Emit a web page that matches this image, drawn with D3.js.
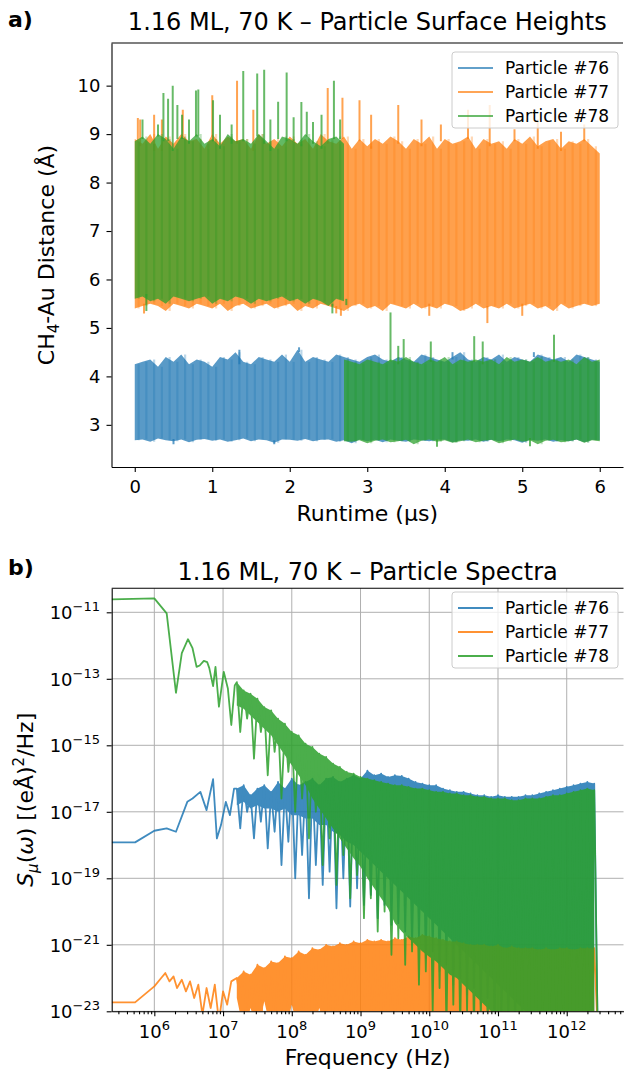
<!DOCTYPE html>
<html>
<head>
<meta charset="utf-8">
<script src="https://cdn.jsdelivr.net/npm/d3@7"></script>
<style>
  body { margin: 0; background: #fff; }
  svg { display: block; }
  text { font-family: "DejaVu Sans", sans-serif; fill: #000; }
</style>
</head>
<body>
<svg id="chart" width="624" height="1070"></svg>
<script>
const SERIES = ['Particle #76', 'Particle #77', 'Particle #78'];
const COLORS = ['#1f77b4', '#ff7f0e', '#2ca02c'];

// a) heights: band top / bottom read every 0.1 µs, plus the thin spikes that stick out
const STRIPE_US = 0.1;
const P76_TOP = [
  4.25, 4.3, 4.35, 4.2, 4.4, 4.3, 4.45, 4.25, 4.35, 4.3,
  4.2, 4.4, 4.35, 4.5, 4.3, 4.25, 4.4, 4.35, 4.3, 4.45,
  4.3, 4.55, 4.3, 4.4, 4.35, 4.3, 4.45, 4.4, 4.35, 4.3,
  4.4, 4.45, 4.35, 4.3, 4.4, 4.35, 4.3, 4.45, 4.4, 4.35,
  4.3, 4.4, 4.5, 4.35, 4.3, 4.4, 4.35, 4.45, 4.3, 4.4,
  4.35, 4.3, 4.45, 4.4, 4.35, 4.4, 4.3, 4.45, 4.4, 4.35,
  4.3];
const P76_BOT = [
  2.68, 2.7, 2.65, 2.72, 2.68, 2.66, 2.7, 2.64, 2.69, 2.71,
  2.67, 2.7, 2.65, 2.68, 2.72, 2.66, 2.7, 2.68, 2.63, 2.7,
  2.69, 2.67, 2.71, 2.66, 2.69, 2.7, 2.65, 2.68, 2.62, 2.7,
  2.66, 2.69, 2.64, 2.7, 2.67, 2.65, 2.7, 2.68, 2.66, 2.69,
  2.7, 2.64, 2.68, 2.67, 2.7, 2.65, 2.69, 2.66, 2.7, 2.68,
  2.63, 2.69, 2.67, 2.7, 2.65, 2.68, 2.66, 2.7, 2.64, 2.69,
  2.68];
const P77_TOP = [
  8.9, 8.8, 9.0, 8.7, 8.95, 8.8, 9.0, 8.85, 8.9, 8.7,
  9.0, 8.8, 8.95, 8.85, 8.9, 8.7, 9.0, 8.8, 8.9, 8.75,
  8.95, 8.8, 8.9, 8.7, 9.0, 8.85, 8.8, 8.95, 8.7, 8.9,
  8.75, 8.9, 8.8, 8.95, 8.85, 8.7, 8.9, 8.8, 8.95, 8.7,
  8.9, 8.8, 8.85, 8.95, 8.7, 8.9, 8.8, 8.85, 8.7, 8.9,
  8.8, 8.95, 8.75, 8.85, 8.9, 8.7, 8.85, 8.8, 8.9, 8.75,
  8.6];
const P77_BOT = [
  5.4, 5.45, 5.5, 5.45, 5.35, 5.5, 5.45, 5.4, 5.5, 5.45,
  5.4, 5.5, 5.35, 5.45, 5.5, 5.4, 5.45, 5.5, 5.4, 5.45,
  5.5, 5.35, 5.45, 5.4, 5.5, 5.45, 5.4, 5.35, 5.45, 5.5,
  5.4, 5.45, 5.35, 5.5, 5.45, 5.4, 5.5, 5.4, 5.45, 5.4,
  5.5, 5.45, 5.35, 5.4, 5.5, 5.4, 5.45, 5.4, 5.5, 5.4,
  5.45, 5.5, 5.4, 5.45, 5.35, 5.5, 5.4, 5.45, 5.5, 5.45,
  5.5];
// #78 sits high until 2.7 µs, then drops into the low band
const P78_TOP_EARLY = [
  8.85, 8.95, 8.8, 9.0, 8.9, 8.7, 8.95, 8.85, 9.0, 8.8,
  8.9, 8.75, 9.0, 8.85, 8.9, 8.8, 9.0, 8.85, 8.7, 8.95,
  8.9, 8.8, 9.0, 8.85, 8.75, 8.9, 8.95, 8.8];
const P78_BOT_EARLY = [
  5.6, 5.65, 5.55, 5.6, 5.5, 5.65, 5.6, 5.55, 5.6, 5.65,
  5.5, 5.6, 5.55, 5.65, 5.6, 5.5, 5.6, 5.55, 5.6, 5.65,
  5.55, 5.6, 5.5, 5.6, 5.55, 5.45, 5.6, 5.55];
const P78_LATE_START = 2.7;
const P78_TOP_LATE = [
  4.35, 4.3, 4.25, 4.35, 4.3, 4.25, 4.35, 4.3, 4.4, 4.3,
  4.25, 4.35, 4.3, 4.4, 4.25, 4.35, 4.3, 4.35, 4.3, 4.35,
  4.25, 4.4, 4.3, 4.35, 4.3, 4.4, 4.3, 4.35, 4.3, 4.35,
  4.25, 4.4, 4.3, 4.35];
const P78_BOT_LATE = [
  2.66, 2.65, 2.68, 2.62, 2.67, 2.7, 2.64, 2.66, 2.69, 2.6,
  2.67, 2.7, 2.65, 2.68, 2.63, 2.66, 2.7, 2.64, 2.67, 2.69,
  2.62, 2.66, 2.7, 2.65, 2.68, 2.6, 2.67, 2.69, 2.64, 2.66,
  2.7, 2.63, 2.68, 2.66];
// spikes: [runtime µs, height Å]
const P76_SPIKES = [[1.35, 4.55], [2.12, 4.6], [0.5, 2.6], [1.8, 2.6], [4.1, 4.5], [5.15, 4.5]];
const P77_SPIKES = [
  [0.04, 9.33], [0.07, 9.3], [0.25, 9.4], [0.35, 9.3], [0.62, 9.5], [1.0, 9.8], [1.32, 10.1],
  [1.53, 9.5], [2.49, 9.95], [2.68, 9.75], [2.9, 9.7], [3.05, 9.4], [3.4, 9.6], [3.7, 9.3],
  [3.95, 9.2], [4.3, 9.5], [4.58, 9.6], [4.9, 9.1], [5.2, 9.3], [5.5, 9.05], [5.8, 9.2],
  [0.12, 5.3], [2.6, 5.3], [2.66, 5.25], [3.8, 5.25], [4.55, 5.1], [5.0, 5.25]];
const P78_SPIKES = [
  [0.1, 9.3], [0.3, 9.2], [0.37, 9.85], [0.43, 9.73], [0.49, 10.0], [0.55, 9.6], [0.61, 9.4],
  [0.7, 9.3], [0.79, 9.9], [0.82, 9.92], [1.01, 9.7], [1.1, 9.4], [1.25, 9.2], [1.4, 10.3],
  [1.58, 10.25], [1.67, 10.33], [1.75, 9.3], [1.85, 9.67], [1.96, 10.27], [2.05, 9.35],
  [2.15, 9.66], [2.22, 9.46], [2.3, 9.25], [2.41, 9.4], [2.57, 10.1], [2.65, 9.3],
  [0.15, 5.35], [2.55, 5.3],
  [2.73, 5.47], [3.3, 5.32], [3.4, 4.63], [3.47, 4.77], [3.82, 4.72], [4.38, 4.83],
  [4.49, 4.72], [5.41, 4.86], [3.9, 2.55], [5.1, 2.56]];
const RUNTIME_TICKS = [0, 1, 2, 3, 4, 5, 6];
const DIST_TICKS = [3, 4, 5, 6, 7, 8, 9, 10];

// b) spectra, all as log10 values: sparse low-frequency part, then a dense band
const P76_LOW_F = [5.38, 5.72, 6.0, 6.18, 6.315, 6.48, 6.556, 6.67, 6.76, 6.855, 6.91, 6.97, 7.04, 7.1, 7.16];
const P76_LOW_S = [-17.92, -17.92, -17.57, -17.5, -17.6, -16.7, -16.6, -16.4, -16.95, -16.02, -17.8, -17.4, -16.7, -17.1, -16.3];
const P77_LOW_F = [5.38, 5.72, 6.0, 6.1, 6.16, 6.22, 6.28, 6.33, 6.4, 6.46, 6.52, 6.58, 6.64, 6.7, 6.76, 6.82, 6.88, 6.94, 7.0, 7.06, 7.12];
const P77_LOW_S = [-22.73, -22.73, -22.25, -22.0, -21.85, -22.1, -21.95, -22.3, -22.05, -22.4, -22.1, -22.6, -22.2, -23.1, -22.3, -22.9, -22.2, -23.3, -22.4, -22.8, -22.1];
const P78_LOW_F = [5.38, 6.0, 6.18, 6.315, 6.4, 6.49, 6.556, 6.615, 6.66, 6.72, 6.77, 6.8, 6.855, 6.89, 6.94, 7.01, 7.07, 7.12, 7.17];
const P78_LOW_S = [-10.61, -10.58, -11.03, -13.42, -12.23, -11.81, -12.08, -12.64, -12.6, -12.46, -12.5, -12.68, -13.22, -12.64, -13.84, -12.79, -13.29, -14.39, -13.2];

const DENSE_F = [
  7.2, 7.3, 7.4, 7.5, 7.6, 7.7, 7.8, 7.9, 8.0, 8.1,
  8.2, 8.3, 8.4, 8.5, 8.6, 8.7, 8.8, 8.9, 9.0, 9.1,
  9.2, 9.3, 9.4, 9.5, 9.6, 9.7, 9.8, 9.9, 10.0, 10.1,
  10.2, 10.3, 10.4, 10.5, 10.6, 10.7, 10.8, 10.9, 11.0, 11.1,
  11.2, 11.3, 11.4, 11.5, 11.6, 11.7, 11.8, 11.9, 12.0, 12.1,
  12.2, 12.3, 12.4];
// top = upper edge, floor = bottom of the solid part, dip = tips of the downward spikes
const P76_DENSE_TOP = [
  -16.3, -16.2, -16.5, -16.3, -16.2, -16.4, -16.1, -16.3, -16.0, -16.2,
  -16.1, -16.0, -16.2, -16.0, -15.95, -16.1, -16.0, -15.9, -16.0, -15.76,
  -15.9, -15.85, -15.95, -15.9, -15.92, -16.0, -16.1, -16.15, -16.2, -16.2,
  -16.3, -16.35, -16.4, -16.4, -16.45, -16.5, -16.5, -16.55, -16.5, -16.55,
  -16.55, -16.55, -16.5, -16.5, -16.45, -16.4, -16.35, -16.3, -16.25, -16.2,
  -16.15, -16.1, -16.15];
const P76_DENSE_FLOOR = [
  -16.8, -16.7, -16.9, -16.8, -16.9, -16.9, -17.0, -16.9, -17.1, -17.1,
  -17.2, -17.2, -17.4, -17.4, -17.6, -17.7, -17.9, -18.0, -18.2, -18.4,
  -18.6, -18.8, -19.0, -19.2, -19.4, -19.6, -19.8, -20.0, -20.2, -20.4,
  -20.6, -20.8, -21.0, -21.2, -21.4, -21.6, -21.8, -22.0, -22.2, -22.4,
  -22.6, -22.8, -23.0, -23.2, -23.4, -23.6, -23.6, -23.6, -23.6, -23.6,
  -23.6, -23.6, -23.6];
const P76_DENSE_DIP = [
  -17.5, -17.0, -17.8, -17.3, -18.1, -17.6, -18.6, -17.9, -19.0, -18.3,
  -19.6, -18.6, -19.2, -18.8, -19.9, -19.0, -19.85, -19.3, -19.8, -19.5,
  -20.2, -19.8, -20.4, -20.35, -20.6, -21.0, -20.8, -21.4, -21.2, -21.8,
  -21.6, -22.2, -22.0, -22.5, -22.3, -22.8, -22.6, -23.2, -23.0, -23.3,
  -23.2, -23.4, -23.3, -23.4, -23.3, -23.6, -23.6, -23.6, -23.6, -23.6,
  -23.6, -23.6, -23.6];
const P77_DENSE_TOP = [
  -22.0, -21.8, -21.9, -21.6, -21.7, -21.5, -21.55, -21.35, -21.4, -21.2,
  -21.3, -21.1, -21.15, -21.0, -21.05, -20.95, -21.0, -20.9, -20.95, -20.85,
  -20.9, -20.85, -20.9, -20.8, -20.85, -20.75, -20.8, -20.7, -20.75, -20.8,
  -20.85, -20.9, -20.9, -20.95, -21.0, -21.0, -21.0, -21.05, -21.0, -21.1,
  -21.05, -21.1, -21.1, -21.1, -21.15, -21.1, -21.15, -21.1, -21.1, -21.15,
  -21.1, -21.1, -21.1];
const P77_DENSE_FLOOR = [
  -22.6, -23.6, -22.9, -23.6, -22.7, -23.6, -23.0, -23.6, -22.8, -23.6,
  -23.1, -23.6, -22.9, -23.6, -23.6, -23.6, -23.6, -23.6, -23.6, -23.6,
  -23.6, -23.6, -23.6, -23.6, -23.6, -23.6, -23.6, -23.6, -23.6, -23.6,
  -23.6, -23.6, -23.6, -23.6, -23.6, -23.6, -23.6, -23.6, -23.6, -23.6,
  -23.6, -23.6, -23.6, -23.6, -23.6, -23.6, -23.6, -23.6, -23.6, -23.6,
  -23.6, -23.6, -23.6];
const P77_DENSE_DIP = P77_DENSE_FLOOR;
const P78_DENSE_TOP = [
  -13.1, -13.35, -13.45, -13.6, -13.85, -13.95, -14.2, -14.35, -14.6, -14.7,
  -14.95, -15.05, -15.25, -15.35, -15.55, -15.65, -15.8, -15.85, -15.95, -16.0,
  -16.05, -16.1, -16.15, -16.2, -16.2, -16.25, -16.3, -16.3, -16.35, -16.4,
  -16.4, -16.45, -16.45, -16.5, -16.5, -16.55, -16.55, -16.6, -16.6, -16.6,
  -16.65, -16.65, -16.6, -16.6, -16.6, -16.55, -16.5, -16.5, -16.45, -16.4,
  -16.35, -16.3, -16.35];
const P78_DENSE_FLOOR = [
  -13.8, -13.9, -14.1, -14.3, -14.5, -14.7, -15.0, -15.3, -15.6, -15.9,
  -16.2, -16.6, -16.9, -17.2, -17.5, -17.8, -18.1, -18.4, -18.65, -19.0,
  -19.3, -19.6, -19.9, -20.35, -20.6, -20.8, -21.0, -21.2, -21.36, -21.5,
  -21.7, -21.9, -22.0, -22.2, -22.4, -22.6, -22.8, -23.0, -23.3, -23.6,
  -23.6, -23.6, -23.6, -23.6, -23.6, -23.6, -23.6, -23.6, -23.6, -23.6,
  -23.6, -23.6, -23.6];
const P78_DENSE_DIP = [
  -14.6, -14.2, -15.4, -14.6, -15.9, -15.2, -16.6, -15.8, -17.0, -16.6,
  -17.8, -17.0, -18.6, -17.8, -19.2, -18.3, -19.6, -18.9, -20.2, -19.6,
  -20.6, -20.0, -21.3, -20.8, -21.6, -21.2, -22.2, -21.8, -23.0, -22.3,
  -23.6, -22.8, -23.6, -23.0, -23.6, -23.3, -23.6, -23.6, -23.6, -23.6,
  -23.6, -23.6, -23.6, -23.6, -23.6, -23.6, -23.6, -23.6, -23.6, -23.6,
  -23.6, -23.6, -23.6];
const FREQ_TICKS = [6, 7, 8, 9, 10, 11, 12];
const SPEC_TICKS = [-11, -13, -15, -17, -19, -21, -23];

const SVG = d3.select('#chart');

// ---------- panel a ----------
const A = { left: 111.5, right: 623, top: 43, bottom: 467 };
const xA = d3.scaleLinear().domain([-0.3, 6.3]).range([A.left, A.right]);
const yA = d3.scaleLinear().domain([2.13, 10.88]).range([A.bottom, A.top]);

SVG.append('clipPath').attr('id', 'clipA').append('rect')
  .attr('x', A.left).attr('y', A.top).attr('width', A.right - A.left).attr('height', A.bottom - A.top);

function band(top, bot, start) {
  return top.map((v, i) => ({ t: start + i * STRIPE_US, top: v, bot: bot[i] }));
}
const HEIGHTS = [
  { bands: [band(P76_TOP, P76_BOT, 0)], spikes: P76_SPIKES },
  { bands: [band(P77_TOP, P77_BOT, 0)], spikes: P77_SPIKES },
  {
    bands: [band(P78_TOP_EARLY, P78_BOT_EARLY, 0), band(P78_TOP_LATE, P78_BOT_LATE, P78_LATE_START)],
    spikes: P78_SPIKES,
  },
];
const areaA = d3.area().x((d) => xA(d.t)).y0((d) => yA(d.bot)).y1((d) => yA(d.top));
const PLOT_A = SVG.append('g').attr('clip-path', 'url(#clipA)');
HEIGHTS.forEach((s, i) => {
  const G = PLOT_A.append('g');
  s.bands.forEach((b) => {
    G.append('path').attr('d', areaA(b)).attr('fill', COLORS[i]).attr('fill-opacity', 0.74);
    // darker stripes inside the band, one per sampled stripe
    b.slice(0, -1).forEach((d) => {
      G.append('line')
        .attr('x1', xA(d.t + STRIPE_US / 2)).attr('x2', xA(d.t + STRIPE_US / 2))
        .attr('y1', yA(d.bot)).attr('y2', yA(d.top))
        .attr('stroke', COLORS[i]).attr('stroke-width', 2.2).attr('stroke-opacity', 0.3);
    });
  });
  // spikes start from the band edge of the nearest stripe
  s.spikes.forEach(([t, v]) => {
    const b = s.bands.find((bb) => t >= bb[0].t - 0.06 && t <= bb[bb.length - 1].t + 0.06) || s.bands[0];
    const d = b[Math.max(0, Math.min(b.length - 1, Math.round((t - b[0].t) / STRIPE_US)))];
    const from = v > d.top ? d.top - 0.05 : d.bot + 0.05;
    G.append('line').attr('x1', xA(t)).attr('x2', xA(t)).attr('y1', yA(from)).attr('y2', yA(v))
      .attr('stroke', COLORS[i]).attr('stroke-width', 2).attr('stroke-opacity', 0.72);
  });
});

const AX_A_X = SVG.append('g').attr('transform', `translate(0,${A.bottom})`)
  .call(d3.axisBottom(xA).tickValues(RUNTIME_TICKS).tickFormat(d3.format('d'))
    .tickSize(5).tickPadding(8).tickSizeOuter(0));
const AX_A_Y = SVG.append('g').attr('transform', `translate(${A.left},0)`)
  .call(d3.axisLeft(yA).tickValues(DIST_TICKS).tickFormat(d3.format('d'))
    .tickSize(5).tickPadding(6).tickSizeOuter(0));
[AX_A_X, AX_A_Y].forEach((g) => {
  g.attr('font-family', null).attr('font-size', 18);
  g.selectAll('path, line').attr('stroke', '#000').attr('stroke-width', 1.1);
  g.selectAll('text').attr('fill', '#000');
});
SVG.append('line').attr('x1', A.left).attr('x2', A.right).attr('y1', A.top).attr('y2', A.top)
  .attr('stroke', '#000').attr('stroke-width', 1.1);

SVG.append('text').attr('x', 8).attr('y', 27).style('font-weight', 'bold').style('font-size', '22px').text('a)');
SVG.append('text').attr('x', (A.left + A.right) / 2).attr('y', 30).attr('text-anchor', 'middle')
  .style('font-size', '24px').text('1.16 ML, 70 K – Particle Surface Heights');
SVG.append('text').attr('x', (A.left + A.right) / 2).attr('y', 521).attr('text-anchor', 'middle')
  .style('font-size', '22px').text('Runtime (μs)');
const YLAB_A = SVG.append('text').attr('transform', `translate(54,${(A.top + A.bottom) / 2}) rotate(-90)`)
  .attr('text-anchor', 'middle').style('font-size', '22px');
YLAB_A.append('tspan').text('CH');
YLAB_A.append('tspan').attr('dy', 5).style('font-size', '15px').text('4');
YLAB_A.append('tspan').attr('dy', -5).text('-Au Distance (Å)');

function legend(x, y, opacity) {
  const G = SVG.append('g').attr('transform', `translate(${x},${y})`);
  G.append('rect').attr('width', 166).attr('height', 76).attr('rx', 3)
    .attr('fill', '#fff').attr('fill-opacity', 0.8).attr('stroke', '#cccccc');
  SERIES.forEach((name, i) => {
    const cy = 16 + i * 24;
    G.append('line').attr('x1', 6).attr('x2', 41).attr('y1', cy).attr('y2', cy)
      .attr('stroke', COLORS[i]).attr('stroke-width', 2).attr('stroke-opacity', opacity);
    G.append('text').attr('x', 53).attr('y', cy + 6).style('font-size', '17px').text(name);
  });
}
legend(452, 52, 0.7);

// ---------- panel b ----------
const B = { left: 111.7, right: 623.5, top: 588.3, bottom: 1011.3 };
const xB = d3.scaleLog().domain([Math.pow(10, 5.38), Math.pow(10, 12.826)]).range([B.left, B.right]);
const yB = d3.scaleLog().domain([1e-23, Math.pow(10, -10.278)]).range([B.bottom, B.top]);
const fx = (lf) => xB(Math.pow(10, lf));
const fy = (ls) => yB(Math.pow(10, ls));

SVG.append('clipPath').attr('id', 'clipB').append('rect')
  .attr('x', B.left).attr('y', B.top).attr('width', B.right - B.left).attr('height', B.bottom - B.top);

const GRID = SVG.append('g').attr('stroke', '#b0b0b0').attr('stroke-width', 1);
FREQ_TICKS.forEach((e) => {
  GRID.append('line').attr('x1', fx(e)).attr('x2', fx(e)).attr('y1', B.top).attr('y2', B.bottom);
});
SPEC_TICKS.forEach((e) => {
  GRID.append('line').attr('x1', B.left).attr('x2', B.right).attr('y1', fy(e)).attr('y2', fy(e));
});

const SPECTRA = [
  { lowF: P76_LOW_F, lowS: P76_LOW_S, top: P76_DENSE_TOP, floor: P76_DENSE_FLOOR, dip: P76_DENSE_DIP },
  { lowF: P77_LOW_F, lowS: P77_LOW_S, top: P77_DENSE_TOP, floor: P77_DENSE_FLOOR, dip: P77_DENSE_DIP },
  { lowF: P78_LOW_F, lowS: P78_LOW_S, top: P78_DENSE_TOP, floor: P78_DENSE_FLOOR, dip: P78_DENSE_DIP },
];
const PLOT_B = SVG.append('g').attr('clip-path', 'url(#clipB)');
const areaB = d3.area().x((d) => fx(d.f)).y0((d) => fy(d.floor)).y1((d) => fy(d.top));
const lineB = d3.line().x((d) => fx(d[0])).y((d) => fy(d[1]));
SPECTRA.forEach((s, i) => {
  const G = PLOT_B.append('g').attr('opacity', 0.85);
  const rows = DENSE_F.map((f, j) => ({ f, top: s.top[j], floor: s.floor[j] }));
  G.append('path').attr('d', areaB(rows)).attr('fill', COLORS[i]);
  const pts = s.lowF.map((f, j) => [f, s.lowS[j]]);
  DENSE_F.forEach((f, j) => {
    pts.push([f, s.top[j]]);
    pts.push([f + 0.05, s.dip[j]]);
  });
  G.append('path').attr('d', lineB(pts)).attr('fill', 'none')
    .attr('stroke', COLORS[i]).attr('stroke-width', 1.8).attr('stroke-linejoin', 'round');
});

const MINOR_F = [];
for (let k = 5; k <= 12; k++) {
  for (let m = 2; m <= 9; m++) {
    const v = m * Math.pow(10, k);
    if (v > xB.domain()[0] && v < xB.domain()[1]) MINOR_F.push(v);
  }
}
const AX_B_X = SVG.append('g').attr('transform', `translate(0,${B.bottom})`)
  .call(d3.axisBottom(xB).tickValues(FREQ_TICKS.map((e) => Math.pow(10, e))).tickFormat(() => '')
    .tickSize(5).tickSizeOuter(0));
const AX_B_MIN = SVG.append('g').attr('transform', `translate(0,${B.bottom})`)
  .call(d3.axisBottom(xB).tickValues(MINOR_F).tickFormat(() => '').tickSize(3).tickSizeOuter(0));
const AX_B_Y = SVG.append('g').attr('transform', `translate(${B.left},0)`)
  .call(d3.axisLeft(yB).tickValues(SPEC_TICKS.map((e) => Math.pow(10, e))).tickFormat(() => '')
    .tickSize(5).tickSizeOuter(0));
[AX_B_X, AX_B_MIN, AX_B_Y].forEach((g) => {
  g.selectAll('path, line').attr('stroke', '#000').attr('stroke-width', 1.1);
});
AX_B_MIN.select('path').remove();

function powLabel(sel, exp) {
  sel.append('tspan').style('font-size', '18px').text('10');
  sel.append('tspan').attr('dy', -8).style('font-size', '13px').text(exp < 0 ? `−${-exp}` : `${exp}`);
}
FREQ_TICKS.forEach((e) => {
  const T = SVG.append('text').attr('x', fx(e)).attr('y', B.bottom + 27).attr('text-anchor', 'middle');
  powLabel(T, e);
});
SPEC_TICKS.forEach((e) => {
  const T = SVG.append('text').attr('x', B.left - 11.7).attr('y', fy(e) + 7).attr('text-anchor', 'end');
  powLabel(T, e);
});
SVG.append('line').attr('x1', B.left).attr('x2', B.right).attr('y1', B.top).attr('y2', B.top)
  .attr('stroke', '#000').attr('stroke-width', 1.1);

SVG.append('text').attr('x', 8).attr('y', 575).style('font-weight', 'bold').style('font-size', '22px').text('b)');
SVG.append('text').attr('x', (B.left + B.right) / 2).attr('y', 580).attr('text-anchor', 'middle')
  .style('font-size', '24px').text('1.16 ML, 70 K – Particle Spectra');
SVG.append('text').attr('x', (B.left + B.right) / 2).attr('y', 1065).attr('text-anchor', 'middle')
  .style('font-size', '22px').text('Frequency (Hz)');
const YLAB_B = SVG.append('text').attr('transform', `translate(33,${(B.top + B.bottom) / 2}) rotate(-90)`)
  .attr('text-anchor', 'middle').style('font-size', '22px');
YLAB_B.append('tspan').style('font-style', 'italic').text('S');
YLAB_B.append('tspan').attr('dy', 5).style('font-style', 'italic').style('font-size', '15px').text('μ');
YLAB_B.append('tspan').attr('dy', -5).text('(');
YLAB_B.append('tspan').style('font-style', 'italic').text('ω');
YLAB_B.append('tspan').text(') [(eÅ)');
YLAB_B.append('tspan').attr('dy', -9).style('font-size', '15px').text('2');
YLAB_B.append('tspan').attr('dy', 9).text('/Hz]');

legend(452, 592, 0.85);
</script>
</body>
</html>
